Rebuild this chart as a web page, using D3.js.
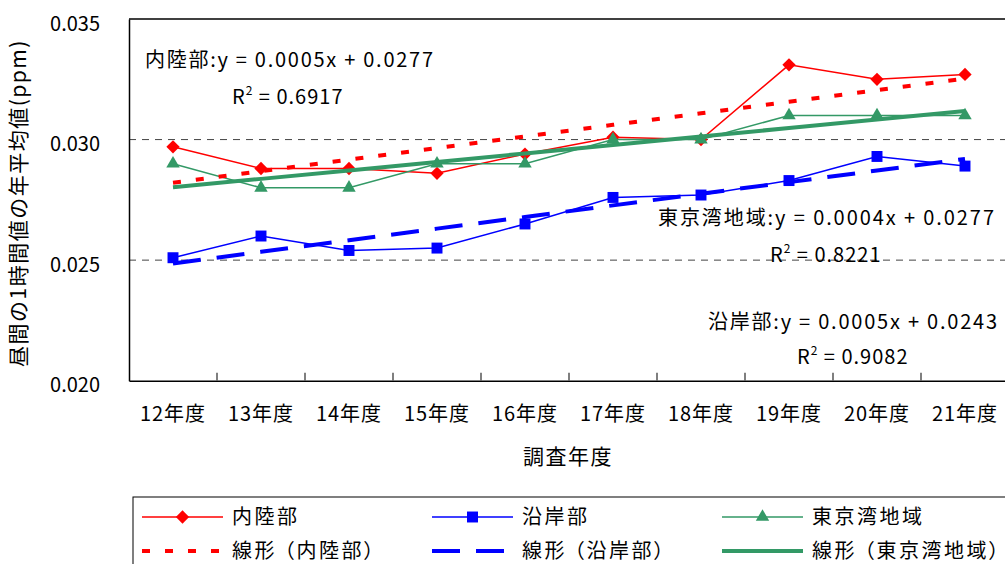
<!DOCTYPE html>
<html lang="ja">
<head>
<meta charset="utf-8">
<script src="https://cdn.jsdelivr.net/npm/d3@7"></script>
<style>
  html, body { margin: 0; padding: 0; background: #fff; }
  svg { display: block; font-family: "Noto Sans CJK JP", "Noto Sans", sans-serif; }
</style>
</head>
<body>
<svg id="chart" width="1005" height="564"></svg>
<script>
// 調査年度
const categories = ["12年度", "13年度", "14年度", "15年度", "16年度", "17年度", "18年度", "19年度", "20年度", "21年度"];
// 昼間の1時間値の年平均値 (ppm)
const inland  = [0.0297, 0.0288, 0.0288, 0.0286, 0.0294, 0.0301, 0.0300, 0.0331, 0.0325, 0.0327]; // 内陸部
const coastal = [0.0251, 0.0260, 0.0254, 0.0255, 0.0265, 0.0276, 0.0277, 0.0283, 0.0293, 0.0289]; // 沿岸部
const bay     = [0.0290, 0.0280, 0.0280, 0.0290, 0.0290, 0.0300, 0.0300, 0.0310, 0.0310, 0.0310]; // 東京湾地域
const yTicks = [0.020, 0.025, 0.030, 0.035];
const seriesNames = ["内陸部", "沿岸部", "東京湾地域"];
const trendNames = ["線形 （内陸部）", "線形 （沿岸部）", "線形 （東京湾地域）"];
const equations = ["y = 0.0005x + 0.0277", "y = 0.0005x + 0.0243", "y = 0.0004x + 0.0277"];
const rSquared = ["0.6917", "0.9082", "0.8221"];

const svg = d3.select("#chart");
const plot = { left: 129, top: 19, right: 1009, bottom: 380.7 };

const x = d3.scaleBand().domain(categories).range([plot.left, plot.right]).padding(0);
const cx = c => x(c) + x.bandwidth() / 2;
const y = d3.scaleLinear().domain([0.020, 0.035]).range([plot.bottom, plot.top]);

const colors = { inland: "#ff0000", coastal: "#0000ff", bay: "#339966" };

// Gridlines (dashed) at interior ticks
svg.append("g").selectAll("line")
  .data(yTicks.filter(v => v > 0.020 && v < 0.035))
  .join("line")
  .attr("x1", plot.left).attr("x2", plot.right)
  .attr("y1", d => y(d)).attr("y2", d => y(d))
  .attr("stroke", "#444").attr("stroke-width", 1)
  .attr("stroke-dasharray", "7,6");

// Top frame line
svg.append("line")
  .attr("x1", plot.left).attr("x2", plot.right)
  .attr("y1", y(0.035)).attr("y2", y(0.035))
  .attr("stroke", "#000").attr("stroke-width", 1.5);

// Y axis
const yAxis = d3.axisLeft(y).tickValues(yTicks).tickSize(0).tickPadding(29)
  .tickFormat(d3.format(".3f"));
const gy = svg.append("g").attr("transform", `translate(${plot.left},0)`).call(yAxis);
gy.select(".domain").attr("stroke", "#000").attr("stroke-width", 1.5);
gy.selectAll("text").attr("font-size", 20).attr("fill", "#000")
  .attr("font-family", "'Noto Sans CJK JP', sans-serif").attr("dy", "0.55em");

// X axis: ticks at category boundaries, pointing inward
const xAxis = d3.axisBottom(x).tickSize(0).tickPadding(26);
const gx = svg.append("g").attr("transform", `translate(0,${plot.bottom})`).call(xAxis);
gx.select(".domain").attr("stroke", "#000").attr("stroke-width", 1.5);
gx.selectAll("text").attr("font-size", 20).attr("fill", "#000")
  .attr("letter-spacing", 1).attr("font-family", "'Noto Sans CJK JP', sans-serif");
svg.append("g").selectAll("line")
  .data(categories.slice(1))
  .join("line")
  .attr("x1", d => x(d)).attr("x2", d => x(d))
  .attr("y1", plot.bottom).attr("y2", plot.bottom - 8)
  .attr("stroke", "#555").attr("stroke-width", 1.5);

// Axis titles
svg.append("text")
  .attr("transform", "translate(26,203) rotate(-90)")
  .attr("text-anchor", "middle")
  .attr("font-size", 21).attr("letter-spacing", 1.5)
  .text("昼間の1時間値の年平均値(ppm)");
svg.append("text")
  .attr("x", 568).attr("y", 464)
  .attr("text-anchor", "middle")
  .attr("font-size", 21).attr("letter-spacing", 1.5)
  .text("調査年度");

// Least-squares trend over category index 1..n
function fit(values) {
  const xs = values.map((_, i) => i + 1);
  const mx = d3.mean(xs), my = d3.mean(values);
  const sxy = d3.sum(xs, (xi, i) => (xi - mx) * (values[i] - my));
  const sxx = d3.sum(xs, xi => (xi - mx) ** 2);
  const slope = sxy / sxx;
  const intercept = my - slope * mx;
  return categories.map((c, i) => ({ c, v: intercept + slope * (i + 1) }));
}

const line = d3.line().x(d => cx(d.c)).y(d => y(d.v));

// Diamond markers are squares turned 45 degrees
const series = [
  { key: "inland", values: inland, marker: d3.symbolSquare, size: 88, rotate: 45 },
  { key: "coastal", values: coastal, marker: d3.symbolSquare, size: 120, rotate: 0 },
  { key: "bay", values: bay, marker: d3.symbolTriangle, size: 78, rotate: 0 }
];

// Data lines with markers
series.forEach(s => {
  const pts = categories.map((c, i) => ({ c, v: s.values[i] }));
  svg.append("path").datum(pts)
    .attr("d", line).attr("fill", "none")
    .attr("stroke", colors[s.key]).attr("stroke-width", 1.5);
  svg.append("g").selectAll("path").data(pts).join("path")
    .attr("transform", d => `translate(${cx(d.c)},${y(d.v)}) rotate(${s.rotate})`)
    .attr("d", d3.symbol(s.marker, s.size))
    .attr("fill", colors[s.key]);
});

// Trend lines
const trendStyles = {
  inland: { width: 4, dash: "8,15" },
  coastal: { width: 4, dash: "28,16" },
  bay: { width: 4, dash: null }
};
series.forEach(s => {
  const st = trendStyles[s.key];
  svg.append("path").datum(fit(s.values))
    .attr("d", line).attr("fill", "none")
    .attr("stroke", colors[s.key]).attr("stroke-width", st.width)
    .attr("stroke-dasharray", st.dash);
});

// Trend equations
function equation(label, eq, r2, ex, ey, len, rx, ry) {
  svg.append("text").attr("x", ex).attr("y", ey)
    .attr("font-size", 20)
    .attr("textLength", len).attr("lengthAdjust", "spacing")
    .text(label + ":" + eq);
  const t = svg.append("text").attr("x", rx).attr("y", ry)
    .attr("font-size", 20).attr("letter-spacing", 1);
  t.append("tspan").text("R");
  t.append("tspan").attr("font-size", 12).attr("dy", -9).text("2");
  t.append("tspan").attr("dy", 9).text(" = " + r2);
}
equation(seriesNames[0], equations[0], rSquared[0], 145, 67, 288, 232, 104);
equation(seriesNames[2], equations[2], rSquared[2], 658, 225, 336, 770, 262);
equation(seriesNames[1], equations[1], rSquared[1], 708, 329, 289, 797, 364);

// Legend
const legend = svg.append("g");
legend.append("rect")
  .attr("x", 133).attr("y", 497).attr("width", 900).attr("height", 100)
  .attr("fill", "none").attr("stroke", "#000").attr("stroke-width", 1);
const cols = [142, 432, 722];
const rows = [517, 551];
series.forEach((s, i) => {
  const x0 = cols[i];
  const g1 = legend.append("g");
  g1.append("line").attr("x1", x0).attr("x2", x0 + 81)
    .attr("y1", rows[0]).attr("y2", rows[0])
    .attr("stroke", colors[s.key]).attr("stroke-width", 1.5);
  g1.append("path").attr("transform", `translate(${x0 + 40.5},${rows[0]}) rotate(${s.rotate})`)
    .attr("d", d3.symbol(s.marker, s.size)).attr("fill", colors[s.key]);
  g1.append("text").attr("x", x0 + 90).attr("y", rows[0] + 7)
    .attr("font-size", 20).attr("letter-spacing", 2.5).text(seriesNames[i]);

  const st = trendStyles[s.key];
  const g2 = legend.append("g");
  g2.append("line").attr("x1", x0).attr("x2", x0 + 81)
    .attr("y1", rows[1]).attr("y2", rows[1])
    .attr("stroke", colors[s.key]).attr("stroke-width", st.width)
    .attr("stroke-dasharray", st.dash);
  g2.append("text").attr("x", x0 + 90).attr("y", rows[1] + 7)
    .attr("font-size", 20).attr("letter-spacing", 2.5)
    .style("font-feature-settings", "'palt'")
    .text(trendNames[i]);
});
</script>
</body>
</html>
